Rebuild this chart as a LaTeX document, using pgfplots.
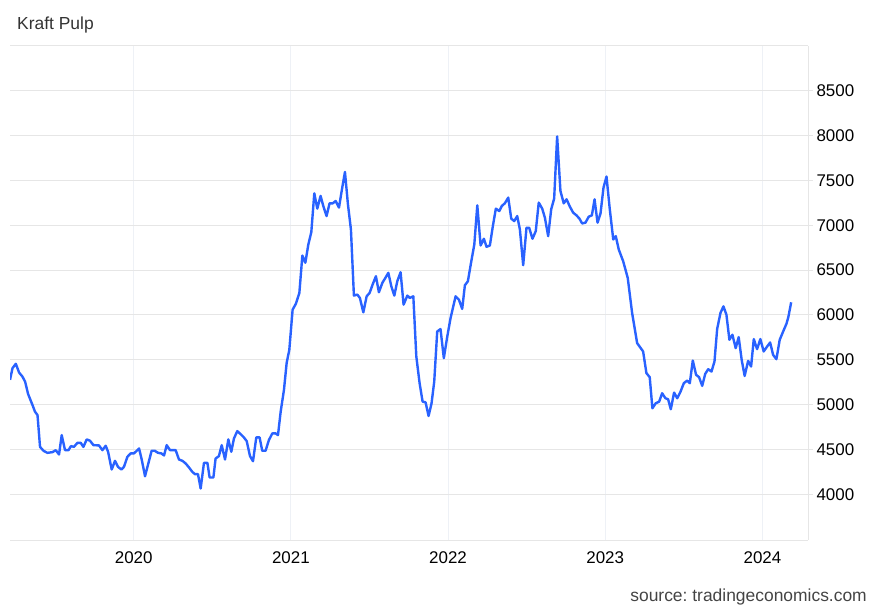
\documentclass[border=0pt]{standalone}
\usepackage{fontspec}
\setmainfont{Liberation Sans}
\usepackage{pgfplots}
\pgfplotsset{compat=1.18}
\definecolor{lineblue}{HTML}{2962FF}
\definecolor{gridgray}{HTML}{E6E6E6}
\definecolor{vgrid}{HTML}{EEF1F6}
\definecolor{titlegray}{HTML}{333333}
\definecolor{srcgray}{HTML}{444444}
\frenchspacing

\begin{document}
\begin{tikzpicture}
\path[use as bounding box] (0,0) rectangle (880bp,610bp);
\node[anchor=base west, inner sep=0pt, text=titlegray, font=\fontsize{17.5}{20}\selectfont] at (17bp,580bp) {Kraft Pulp};
\node[anchor=base east, inner sep=0pt, text=srcgray, font=\fontsize{17.5}{20}\selectfont] at (867bp,9bp) {source: tradingeconomics.com};
\begin{axis}[
    at={(10bp,70bp)}, anchor=south west,
    scale only axis,
    width=798bp, height=494bp,
    xmin=2019.213, xmax=2024.29,
    ymin=3490, ymax=9000,
    axis x line*=bottom, axis y line*=right,
    axis line style={draw=gridgray, line width=1bp, -},
    xtick={2020,2021,2022,2023,2024},
    xticklabels={2020,2021,2022,2023,2024},
    ytick={4000,4500,...,8500},
    extra y ticks={9000},
    extra y tick labels={},
    extra y tick style={tick style={draw=none}},
    xmajorgrids, ymajorgrids,
    x grid style={vgrid, line width=1bp},
    y grid style={gridgray, line width=1bp},
    xtick style={draw=none},
    ytick style={gridgray, line width=1bp},
    tick align=outside,
    major tick length=5bp,
    scaled y ticks=false,
    /pgf/number format/assume math mode=true,
    /pgf/number format/1000 sep={},
    tick label style={font=\fontsize{17}{20}\selectfont, text=black},
    xticklabel style={yshift=-3bp},
    yticklabel style={xshift=0bp},
    clip=true,
]
\addplot[lineblue, line width=2.4bp, line join=round, mark=none] coordinates {
(2019.213,5276) (2019.229,5407) (2019.250,5455) (2019.271,5357) (2019.292,5313)
(2019.309,5257) (2019.328,5119) (2019.356,4996) (2019.372,4921) (2019.388,4884)
(2019.404,4529) (2019.426,4485) (2019.451,4462) (2019.483,4470) (2019.504,4492)
(2019.525,4444) (2019.542,4660) (2019.563,4492) (2019.585,4492) (2019.601,4537)
(2019.620,4529) (2019.642,4574) (2019.663,4574) (2019.680,4529) (2019.701,4612)
(2019.722,4597) (2019.744,4548) (2019.779,4545) (2019.801,4492) (2019.822,4541)
(2019.837,4474) (2019.860,4276) (2019.881,4373) (2019.900,4306) (2019.922,4276)
(2019.938,4306) (2019.960,4418) (2019.981,4456) (2020.002,4456) (2020.019,4485)
(2020.034,4511) (2020.051,4388) (2020.072,4201) (2020.093,4343) (2020.114,4485)
(2020.134,4485) (2020.155,4462) (2020.176,4456) (2020.193,4433) (2020.210,4548)
(2020.231,4492) (2020.267,4492) (2020.288,4388) (2020.310,4373) (2020.331,4343)
(2020.352,4299) (2020.373,4250) (2020.390,4224) (2020.409,4224) (2020.426,4064)
(2020.447,4350) (2020.469,4350) (2020.483,4187) (2020.507,4187) (2020.521,4399)
(2020.542,4425) (2020.560,4548) (2020.581,4388) (2020.602,4612) (2020.621,4474)
(2020.638,4623) (2020.659,4705) (2020.680,4671) (2020.701,4634) (2020.719,4593)
(2020.740,4425) (2020.759,4369) (2020.780,4634) (2020.801,4634) (2020.818,4485)
(2020.839,4485) (2020.860,4604) (2020.882,4679) (2020.903,4679) (2020.918,4660)
(2020.935,4921) (2020.956,5164) (2020.973,5463) (2020.990,5611) (2021.011,6059)
(2021.032,6126) (2021.054,6246) (2021.073,6663) (2021.092,6582) (2021.111,6786)
(2021.130,6924) (2021.149,7357) (2021.168,7186) (2021.189,7328) (2021.206,7216)
(2021.227,7103) (2021.246,7245) (2021.266,7245) (2021.285,7271) (2021.306,7197)
(2021.325,7402) (2021.344,7595) (2021.363,7234) (2021.382,6954) (2021.401,6216)
(2021.423,6227) (2021.439,6190) (2021.461,6029) (2021.482,6208) (2021.501,6246)
(2021.520,6339) (2021.541,6432) (2021.560,6253) (2021.582,6358) (2021.601,6413)
(2021.620,6470) (2021.639,6320) (2021.658,6216) (2021.677,6376) (2021.698,6477)
(2021.717,6115) (2021.741,6216) (2021.757,6190) (2021.779,6208) (2021.798,5537)
(2021.819,5239) (2021.838,5033) (2021.857,5026) (2021.876,4873) (2021.895,5015)
(2021.912,5257) (2021.931,5816) (2021.952,5843) (2021.973,5518) (2021.995,5760)
(2022.016,5966) (2022.048,6208) (2022.069,6171) (2022.090,6067) (2022.107,6331)
(2022.126,6376) (2022.148,6600) (2022.167,6786) (2022.186,7223) (2022.207,6775)
(2022.228,6850) (2022.245,6760) (2022.266,6775) (2022.285,6991) (2022.304,7186)
(2022.326,7159) (2022.342,7216) (2022.361,7245) (2022.383,7309) (2022.402,7074)
(2022.421,7047) (2022.440,7103) (2022.457,6954) (2022.478,6555) (2022.499,6973)
(2022.516,6973) (2022.537,6850) (2022.558,6935) (2022.577,7253) (2022.599,7186)
(2022.616,7085) (2022.637,6879) (2022.656,7178) (2022.675,7298) (2022.694,7992)
(2022.715,7383) (2022.736,7245) (2022.754,7290) (2022.775,7208) (2022.796,7141)
(2022.817,7111) (2022.836,7074) (2022.853,7021) (2022.874,7029) (2022.895,7096)
(2022.915,7111) (2022.932,7290) (2022.951,7029) (2022.970,7133) (2022.989,7421)
(2023.008,7544) (2023.029,7178) (2023.051,6842) (2023.067,6879) (2023.086,6730)
(2023.114,6600) (2023.143,6414) (2023.171,6022) (2023.203,5686) (2023.241,5593)
(2023.262,5351) (2023.283,5306) (2023.300,4959) (2023.321,5015) (2023.343,5033)
(2023.362,5127) (2023.383,5071) (2023.400,5060) (2023.417,4948) (2023.438,5134)
(2023.458,5071) (2023.479,5145) (2023.500,5239) (2023.521,5268) (2023.538,5239)
(2023.557,5492) (2023.578,5332) (2023.597,5306) (2023.617,5209) (2023.636,5343)
(2023.655,5395) (2023.676,5369) (2023.695,5481) (2023.712,5843) (2023.733,6022)
(2023.752,6096) (2023.771,6003) (2023.790,5723) (2023.809,5779) (2023.830,5630)
(2023.849,5753) (2023.868,5499) (2023.887,5320) (2023.909,5488) (2023.928,5425)
(2023.945,5731) (2023.966,5619) (2023.987,5731) (2024.008,5593) (2024.030,5648)
(2024.049,5693) (2024.068,5555) (2024.089,5507) (2024.110,5723) (2024.132,5816)
(2024.153,5902) (2024.165,5977) (2024.183,6141)
};
\end{axis}
\end{tikzpicture}
\end{document}
